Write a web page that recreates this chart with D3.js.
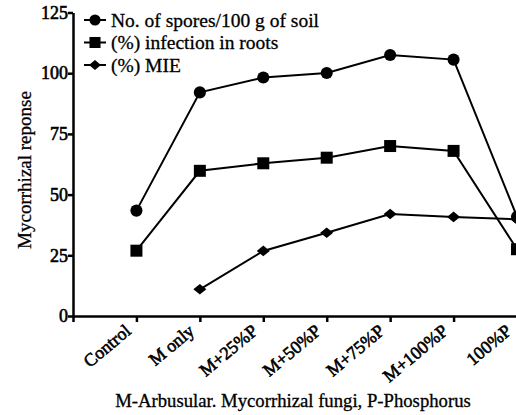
<!DOCTYPE html>
<html>
<head>
<meta charset="utf-8">
<title>Mycorrhizal response</title>
<script src="https://d3js.org/d3.v7.min.js"></script>
<style>
  body { margin: 0; background: #fff; }
  svg text { font-family: "Liberation Serif", "Times New Roman", serif; fill: #000; }
</style>
</head>
<body>
<svg width="516" height="415"></svg>
<script>
// treatments along the x axis
var categories = ["Control", "M only", "M+25%P", "M+50%P", "M+75%P", "M+100%P", "100%P"];
// values (null = not plotted)
var spores = [43.4, 92.1, 98.2, 100.1, 107.5, 105.6, 40.9];
var infection = [26.9, 59.8, 62.9, 65.2, 70.0, 68.0, 27.5];
var mie = [null, 11.0, 26.8, 34.3, 42.0, 40.8, 39.8];
var yTicks = [0, 25, 50, 75, 100, 125];
var seriesNames = ["No. of spores/100 g of soil", "(%) infection in roots", "(%) MIE"];

var svg = d3.select("svg");
var serif = "'Liberation Serif', 'Times New Roman', serif";

var x = d3.scaleLinear().domain([0, 7]).range([73, 517]);
var y = d3.scaleLinear().domain([0, 125]).range([316, 12.5]);

// wide flat diamond like the prism marker
var flatDiamond = {
  draw: function (ctx, size) {
    var w = Math.sqrt(size) * 0.62, h = w * 0.82;
    ctx.moveTo(-w, 0); ctx.lineTo(0, -h); ctx.lineTo(w, 0); ctx.lineTo(0, h); ctx.closePath();
  }
};

var series = [
  {name: seriesNames[0], values: spores, shape: d3.symbolCircle, size: 115},
  {name: seriesNames[1], values: infection, shape: d3.symbolSquare, size: 144},
  {name: seriesNames[2], values: mie, shape: flatDiamond, size: 110}
];

// fake bold: serif bold face is not available, thicken with a thin stroke
function heavy(sel, w) {
  sel.style("font-family", serif)
    .style("font-weight", "normal")
    .attr("stroke", "#000")
    .attr("stroke-width", w);
}

// axes
var xAxis = svg.append("g")
  .attr("transform", "translate(0," + y(0) + ")")
  .call(d3.axisBottom(x)
    .tickValues(d3.range(0, 8))
    .tickSize(6)
    .tickSizeOuter(0)
    .tickFormat(function (d) { return d >= 1 ? categories[d - 1] : ""; }));
xAxis.selectAll("path, line").attr("stroke", "#000").attr("stroke-width", 2.5);
xAxis.selectAll("text")
  .attr("x", 0)
  .attr("y", 0)
  .attr("dy", "0.35em")
  .attr("text-anchor", "end")
  .attr("transform", "translate(-9,12) rotate(-40)")
  .style("font-size", "18px")
  .call(heavy, 0.6);

var yAxis = svg.append("g")
  .attr("transform", "translate(" + x(0) + ",0)")
  .call(d3.axisLeft(y).tickValues(yTicks).tickSize(5).tickSizeOuter(0));
yAxis.selectAll("path, line").attr("stroke", "#000").attr("stroke-width", 2.5);
yAxis.selectAll("text")
  .attr("x", -5)
  .style("font-size", "18px")
  .call(heavy, 0.6);

// axis titles
svg.append("text")
  .attr("transform", "translate(31,170) rotate(-90)")
  .attr("text-anchor", "middle")
  .style("font-size", "19px")
  .call(heavy, 0.3)
  .text("Mycorrhizal reponse");

svg.append("text")
  .attr("x", 293)
  .attr("y", 407)
  .attr("text-anchor", "middle")
  .style("font-size", "18.7px")
  .call(heavy, 0.3)
  .text("M-Arbusular. Mycorrhizal fungi, P-Phosphorus");

// series lines and markers
var line = d3.line()
  .defined(function (d) { return d != null; })
  .x(function (d, i) { return x(i + 1); })
  .y(function (d) { return y(d); });

series.forEach(function (s) {
  svg.append("path")
    .datum(s.values)
    .attr("fill", "none")
    .attr("stroke", "#000")
    .attr("stroke-width", 2)
    .attr("d", line);

  svg.selectAll(null)
    .data(s.values.map(function (v, i) { return {v: v, i: i}; }).filter(function (d) { return d.v != null; }))
    .enter()
    .append("path")
    .attr("d", d3.symbol().type(s.shape).size(s.size))
    .attr("transform", function (d) { return "translate(" + x(d.i + 1) + "," + y(d.v) + ")"; })
    .attr("fill", "#000");
});

// legend
var legend = svg.append("g");
series.forEach(function (s, i) {
  var ly = 20 + i * 22.5;
  legend.append("line")
    .attr("x1", 84).attr("x2", 106)
    .attr("y1", ly).attr("y2", ly)
    .attr("stroke", "#000").attr("stroke-width", 2);
  legend.append("path")
    .attr("d", d3.symbol().type(s.shape).size(s.size * 0.85))
    .attr("transform", "translate(95," + ly + ")")
    .attr("fill", "#000");
  legend.append("text")
    .attr("x", 111)
    .attr("y", ly)
    .attr("dy", "0.35em")
    .style("font-size", "19.5px")
    .call(heavy, 0.3)
    .text(s.name);
});
</script>
</body>
</html>
